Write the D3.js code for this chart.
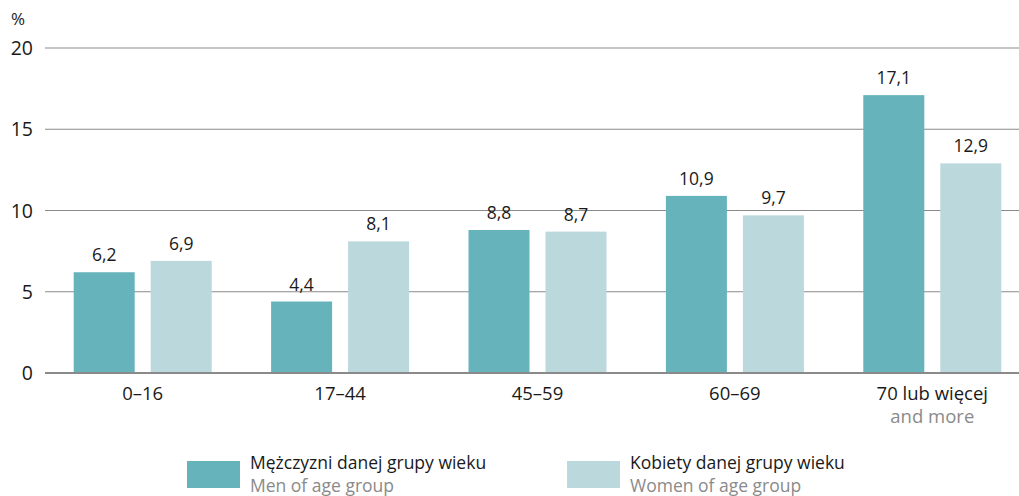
<!DOCTYPE html>
<html>
<head>
<meta charset="utf-8">
<script src="https://cdn.jsdelivr.net/npm/d3@7"></script>
<style>
  body { margin: 0; background: #fff; }
  svg text { font-family: "Open Sans", "Noto Sans", sans-serif; }
</style>
</head>
<body>
<div id="chart"></div>
<script>
// age groups (PL label + EN second line)
const groups = ["0–16", "17–44", "45–59", "60–69", "70 lub więcej"];
const groupsEn = ["", "", "", "", "and more"];
const men = [6.2, 4.4, 8.8, 10.9, 17.1];
const women = [6.9, 8.1, 8.7, 9.7, 12.9];
const yTicks = [0, 5, 10, 15, 20];
const seriesNames = ["Mężczyzni danej grupy wieku", "Kobiety danej grupy wieku"];
const seriesNamesEn = ["Men of age group", "Women of age group"];
const colors = ["#66b3bc", "#bbd8dd"];

const W = 1019, H = 496;

const svg = d3.select("#chart").append("svg")
  .attr("width", W)
  .attr("height", H);

const x = d3.scaleBand().domain(groups).range([44, 1031]);
const y = d3.scaleLinear().domain([0, 20]).range([373, 48]);

const fmt = v => v.toFixed(1).replace(".", ",");

// gridlines
svg.append("g").selectAll("line")
  .data(yTicks.filter(t => t > 0))
  .join("line")
  .attr("x1", 45).attr("x2", W)
  .attr("y1", d => y(d)).attr("y2", d => y(d))
  .attr("stroke", "#8a8a8a")
  .attr("stroke-width", 1);

// y tick labels
svg.append("g").selectAll("text")
  .data(yTicks)
  .join("text")
  .attr("x", 33)
  .attr("y", d => y(d))
  .attr("dy", "0.36em")
  .attr("text-anchor", "end")
  .attr("font-size", 19.5)
  .attr("fill", "#1a1a1a")
  .text(d => d);

svg.append("text")
  .attr("x", 18).attr("y", 25)
  .attr("text-anchor", "middle")
  .attr("font-size", 17)
  .attr("fill", "#1a1a1a")
  .text("%");

// bars
const barW = 61, off = 38.5;
const series = [men, women];
series.forEach((vals, si) => {
  const dx = si === 0 ? -off : off;
  const gs = svg.append("g");
  gs.selectAll("rect")
    .data(vals)
    .join("rect")
    .attr("x", (d, i) => x(groups[i]) + x.bandwidth() / 2 + dx - barW / 2)
    .attr("y", d => y(d))
    .attr("width", barW)
    .attr("height", d => y(0) - y(d))
    .attr("fill", colors[si]);
  gs.selectAll("text")
    .data(vals)
    .join("text")
    .attr("x", (d, i) => x(groups[i]) + x.bandwidth() / 2 + dx)
    .attr("y", d => y(d) - 11)
    .attr("text-anchor", "middle")
    .attr("font-size", 17.5)
    .attr("fill", "#1a1a1a")
    .text(fmt);
});

// baseline
svg.append("line")
  .attr("x1", 45).attr("x2", W)
  .attr("y1", y(0)).attr("y2", y(0))
  .attr("stroke", "#8a8a8a")
  .attr("stroke-width", 2);

// x labels
const xl = svg.append("g");
xl.selectAll("text.pl")
  .data(groups)
  .join("text")
  .attr("class", "pl")
  .attr("x", d => x(d) + x.bandwidth() / 2)
  .attr("y", 400)
  .attr("text-anchor", "middle")
  .attr("font-size", 18.5)
  .attr("fill", "#1a1a1a")
  .text(d => d);
xl.selectAll("text.en")
  .data(groupsEn)
  .join("text")
  .attr("class", "en")
  .attr("x", (d, i) => x(groups[i]) + x.bandwidth() / 2)
  .attr("y", 423)
  .attr("text-anchor", "middle")
  .attr("font-size", 18.5)
  .attr("fill", "#8a8a8a")
  .text(d => d);

// legend
const legX = [187, 567];
seriesNames.forEach((name, i) => {
  const lg = svg.append("g").attr("transform", `translate(${legX[i]},0)`);
  lg.append("rect")
    .attr("x", 0).attr("y", 461)
    .attr("width", 53).attr("height", 27)
    .attr("fill", colors[i]);
  lg.append("text")
    .attr("x", 63).attr("y", 469)
    .attr("font-size", 17.5)
    .attr("fill", "#1a1a1a")
    .text(name);
  lg.append("text")
    .attr("x", 63).attr("y", 492)
    .attr("font-size", 17.5)
    .attr("fill", "#8a8a8a")
    .text(seriesNamesEn[i]);
});
</script>
</body>
</html>
